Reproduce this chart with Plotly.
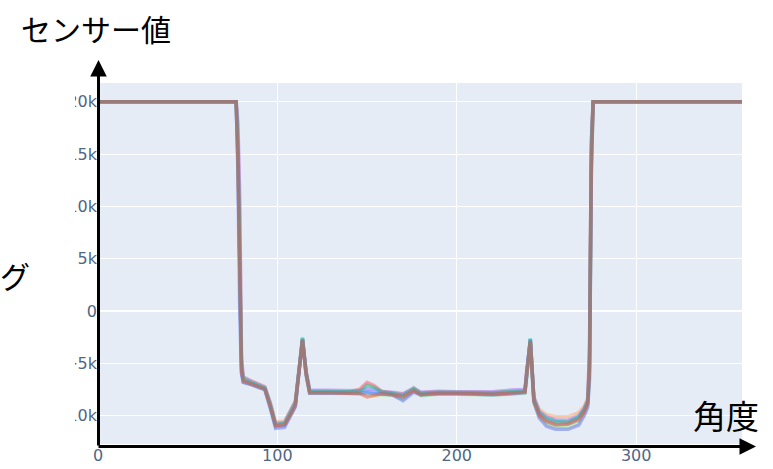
import plotly.graph_objects as go

# Angle grid (degrees) shared by all sensor series
ANGLE_DEG = [0, 77, 78, 79, 80, 81, 86, 93, 96, 99, 104,
             108, 110, 114, 116, 118, 130, 140, 146, 150, 154,
             158, 164, 170, 176, 180, 190, 200, 210, 220, 230,
             238, 239, 241, 243, 246, 250, 255, 262, 268, 271,
             273, 274, 275, 276, 359]

S1 = [20000, 20000, 17000, 9000, -4800, -6300, -6700, -7200, -8700, -10600, -10500,
      -9300, -8600, -2700, -5800, -7600, -7650, -7700, -7500, -6900, -7200,
      -7650, -7800, -7950, -7400, -7800, -7700, -7700, -7750, -7800, -7700,
      -7600, -5800, -2900, -8300, -9400, -9900, -10100, -10100, -9700, -9100,
      -8300, -3500, 16500, 20000, 20000]
S2 = [20000, 20000, 14000, 1000, -5900, -6800, -7050, -7500, -9200, -11050, -10950,
      -9800, -9100, -2500, -6000, -7850, -7850, -7900, -7850, -7700, -7750,
      -7950, -8000, -8350, -7650, -8050, -7900, -7900, -7950, -8000, -7900,
      -7800, -6300, -2600, -8700, -10000, -10600, -10900, -10850, -10400, -9700,
      -8900, -6000, 13500, 20000, 20000]
S3 = [20000, 20000, 15500, 4500, -5300, -6550, -6900, -7400, -9000, -10900, -10800,
      -9650, -8950, -2800, -6100, -7850, -7900, -7950, -7900, -8000, -8100,
      -8000, -8050, -8450, -7300, -8100, -7950, -7950, -8000, -8050, -7950,
      -7850, -6100, -2800, -8800, -10200, -10800, -11100, -11100, -10700, -9900,
      -9000, -6500, 12500, 20000, 20000]
S4 = [20000, 20000, 15000, 4000, -5500, -6600, -6950, -7400, -9050, -10950, -10850,
      -9600, -8900, -2650, -5900, -7700, -7700, -7750, -7450, -6800, -7100,
      -7650, -7900, -8100, -7550, -7900, -7800, -7800, -7850, -7900, -7800,
      -7700, -5900, -2700, -8500, -9800, -10400, -10700, -10700, -10200, -9500,
      -8700, -5000, 15000, 20000, 20000]
S5 = [20000, 20000, 18000, 11000, -4500, -6300, -6750, -7250, -8750, -10750, -10650,
      -9400, -8650, -2900, -5700, -7550, -7600, -7650, -7600, -7450, -7500,
      -7700, -7750, -7900, -7350, -7750, -7650, -7700, -7700, -7700, -7550,
      -7500, -5600, -3000, -8200, -9600, -10100, -10400, -10450, -10000, -9300,
      -8500, -4000, 16000, 20000, 20000]
S6 = [20000, 20000, 13500, 0, -6000, -6800, -7050, -7500, -9200, -11200, -11100,
      -9800, -9150, -2700, -6050, -7850, -7850, -7900, -7850, -7800, -7900,
      -7900, -8000, -8550, -7750, -8000, -7900, -7900, -7950, -8000, -7900,
      -7800, -6000, -2750, -8700, -10200, -11000, -11300, -11300, -10900, -10000,
      -9200, -6500, 13000, 20000, 20000]
S7 = [20000, 20000, 16000, 6000, -5200, -6500, -6850, -7350, -8900, -10850, -10750,
      -9550, -8800, -2600, -5850, -7700, -7700, -7750, -7700, -7100, -7300,
      -7700, -7850, -8050, -7450, -7850, -7750, -7750, -7800, -7800, -7700,
      -7650, -6000, -2650, -8450, -9700, -10250, -10550, -10600, -10100, -9400,
      -8600, -4800, 15500, 20000, 20000]
S8 = [20000, 20000, 14500, 2500, -5700, -6700, -7000, -7450, -9100, -10950, -10850,
      -9700, -8950, -2750, -6050, -7800, -7800, -7850, -7900, -8200, -8050,
      -7900, -8000, -8200, -7600, -8000, -7850, -7850, -7900, -7950, -7850,
      -7750, -6100, -2850, -8600, -9950, -10550, -10850, -10800, -10400, -9650,
      -8800, -5500, 14000, 20000, 20000]

SERIES = [S1, S2, S3, S4, S5, S6, S7, S8]

COLORS = ["#FFA15A", "#19d3f3", "#B6E880", "#FF6692",
          "#ab63fa", "#636efa", "#00cc96", "#EF553B"]

fig = go.Figure()
for i, s in enumerate(SERIES):
    fig.add_trace(go.Scatter(x=ANGLE_DEG, y=s, mode="lines",
                             line=dict(color=COLORS[i], width=3.5),
                             opacity=0.5, showlegend=False,
                             hoverinfo="skip"))

L, R, T, B = 98, 31, 83, 25
W, H = 773, 469
PW, PH = W - L - R, H - T - B

def px_x(p):
    return (p - L) / PW

def px_y(p):
    return (H - B - p) / PH

TICKFONT = dict(family="DejaVu Sans, Verdana, sans-serif", size=16, color="#506784")
JP = "Noto Sans CJK JP"

fig.update_layout(
    template="plotly",
    width=W, height=H,
    margin=dict(l=L, r=R, t=T, b=B, autoexpand=False),
    showlegend=False,
    xaxis=dict(range=[0, 359], tick0=0, dtick=100, automargin=False,
               zeroline=False, showline=False, tickfont=TICKFONT),
    yaxis=dict(range=[-12700, 21800], tick0=0, dtick=5000, automargin=False,
               showline=False, tickfont=TICKFONT),
    annotations=[
        # white cover hiding the left part of the y tick labels
        dict(xref="paper", yref="paper", x=px_x(-6), y=px_y(86), text=" ",
             showarrow=False, xanchor="left", yanchor="top",
             width=81, height=346, bgcolor="white", borderpad=0, borderwidth=0),
        dict(xref="paper", yref="paper", x=px_x(98.5), y=px_y(60), text="",
             showarrow=True, ax=0, ay=387, arrowhead=2, arrowsize=1.1,
             arrowwidth=3, arrowcolor="black", standoff=0),
        dict(xref="paper", yref="paper", x=px_x(756), y=px_y(446.5), text="",
             showarrow=True, ax=-659, ay=0, arrowhead=2, arrowsize=1.1,
             arrowwidth=3, arrowcolor="black", standoff=0),
        dict(xref="paper", yref="paper", x=px_x(96), y=px_y(28), text="センサー値",
             showarrow=False, xanchor="center", yanchor="middle",
             font=dict(size=30, color="black", family=JP)),
        dict(xref="paper", yref="paper", x=px_x(726), y=px_y(415), text="角度",
             showarrow=False, xanchor="center", yanchor="middle",
             font=dict(size=33, color="black", family=JP)),
        dict(xref="paper", yref="paper", x=px_x(15), y=px_y(275), text="グ",
             showarrow=False, xanchor="center", yanchor="middle",
             font=dict(size=30, color="black", family=JP)),
    ],
)

fig.write_html("out.html", config={"displayModeBar": False},
               post_script="document.body.style.margin='0';document.body.style.overflow='hidden';")
